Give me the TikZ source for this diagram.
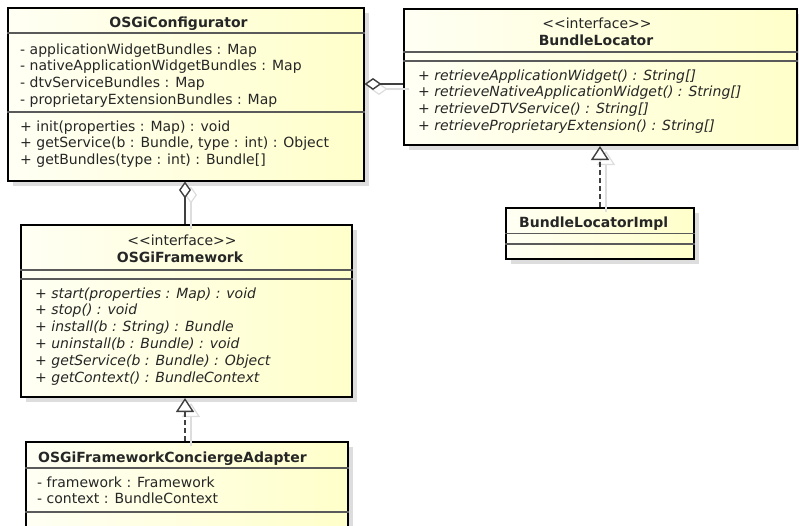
\documentclass[tikz,border=0pt]{standalone}
\usepackage{fontspec}
\setmainfont{DejaVu Sans}
\usetikzlibrary{arrows.meta,calc}
\definecolor{ClassFillL}{HTML}{FFFFF4}
\definecolor{ClassFillR}{HTML}{FFFFCA}
\definecolor{ShadowGray}{HTML}{DDDDDD}
\definecolor{EdgeGray}{HTML}{404040}
\definecolor{RuleGray}{HTML}{5A5A5A}
\definecolor{InkText}{HTML}{262626}
\tikzset{
  umlbox/.style={draw=black,line width=2pt,left color=ClassFillL,right color=ClassFillR,anchor=north west,inner sep=0pt},
  umltitle/.style={font=\bfseries\fontsize{14}{17}\selectfont,text=InkText,inner sep=0pt,anchor=base},
  stereo/.style={font=\fontsize{14}{17}\selectfont,text=InkText,inner sep=0pt,anchor=base},
  member/.style={font=\fontsize{14}{17}\selectfont,text=InkText,inner sep=0pt,anchor=base west},
  opmember/.style={member,font=\itshape\fontsize{14}{17}\selectfont},
  sepline/.style={draw=RuleGray,line width=1.3pt},
  aggr/.style={draw=EdgeGray,line width=1.4pt,{Diamond[fill=white,length=17pt,width=12pt]}-},
  realz/.style={draw=EdgeGray,line width=1.4pt,dash pattern=on 5pt off 3pt,-{Triangle[fill=white,length=14pt,width=18pt]}},
  edgeshadow/.style={draw=ShadowGray,line width=1.2pt,transform canvas={shift={(6pt,-5pt)}}}
}
% box with its grey drop shadow: name, top left corner, width, height
\newcommand{\umlclass}[4]{\fill[ShadowGray] ($(#2)+(6,6)$) rectangle ++(#3,#4);
  \node[umlbox,minimum width=#3pt,minimum height=#4pt] (#1) at (#2) {};}
\newcommand{\compline}[2]{\draw[sepline] (#1.west |- 0,#2) -- (#1.east |- 0,#2);}
% one row per entry, first baseline at #3
\newcommand{\members}[5]{\foreach \m [count=\k] in {#5} \node[#4] (#1\k) at (#2,{#3+(\k-1)*16.9}) {\m};}

\begin{document}
\begin{tikzpicture}[x=1pt,y=-1pt]
  \useasboundingbox (0,0) rectangle (799,525);

  \umlclass{cfg}{6.5,7}{356}{172.5}
  \compline{cfg}{33}
  \compline{cfg}{112}
  \node[umltitle] (cfgname) at (178.5,27) {OSGiConfigurator};
  \members{cfga}{20}{54}{member}{{- applicationWidgetBundles : Map},{- nativeApplicationWidgetBundles : Map},{- dtvServiceBundles : Map},{- proprietaryExtensionBundles : Map}}
  \members{cfgo}{20}{131}{member}{{+ init(properties : Map) : void},{+ getService(b : Bundle, type : int) : Object},{+ getBundles(type : int) : Bundle[]}}

  \umlclass{loc}{403,8}{393}{136}
  \compline{loc}{52}
  \compline{loc}{61}
  \node[stereo] (locst) at (597,28) {<{}<interface>{}>};
  \node[umltitle] (locname) at (596,45) {BundleLocator};
  \members{loco}{418}{80}{opmember}{{+ retrieveApplicationWidget() : String[]},{+ retrieveNativeApplicationWidget() : String[]},{+ retrieveDTVService() : String[]},{+ retrieveProprietaryExtension() : String[]}}

  \umlclass{impl}{505,207}{188}{51}
  \compline{impl}{233.5}
  \compline{impl}{244}
  \node[umltitle,anchor=base west] (implname) at (519,227) {BundleLocatorImpl};

  \umlclass{fw}{20,224}{331}{172}
  \compline{fw}{270}
  \compline{fw}{279}
  \node[stereo] (fwst) at (182,245) {<{}<interface>{}>};
  \node[umltitle] (fwname) at (180,262) {OSGiFramework};
  \members{fwo}{35}{298}{opmember}{{+ start(properties : Map) : void},{+ stop() : void},{+ install(b : String) : Bundle},{+ uninstall(b : Bundle) : void},{+ getService(b : Bundle) : Object},{+ getContext() : BundleContext}}

  \umlclass{ada}{25,441}{322}{100}
  \compline{ada}{468}
  \compline{ada}{512}
  \node[umltitle,anchor=base west] (adaname) at (38,462) {OSGiFrameworkConciergeAdapter};
  \members{adaa}{37}{487}{member}{{- framework : Framework},{- context : BundleContext}}

  \draw[aggr,edgeshadow] (cfg.east |- 0,84) -- (loc.west |- 0,84);
  \draw[aggr,edgeshadow] (cfg.south -| 185,0) -- (fw.north -| 185,0);
  \draw[realz,edgeshadow,solid] (ada.north -| 185,0) -- (fw.south -| 185,0);
  \draw[realz,edgeshadow,solid] (impl.north -| 600,0) -- (loc.south -| 600,0);

  \draw[aggr] (cfg.east |- 0,84) -- (loc.west |- 0,84);
  \draw[aggr] (cfg.south -| 185,0) -- (fw.north -| 185,0);
  \draw[realz] (ada.north -| 185,0) -- (fw.south -| 185,0);
  \draw[realz] (impl.north -| 600,0) -- (loc.south -| 600,0);
\end{tikzpicture}
\end{document}
